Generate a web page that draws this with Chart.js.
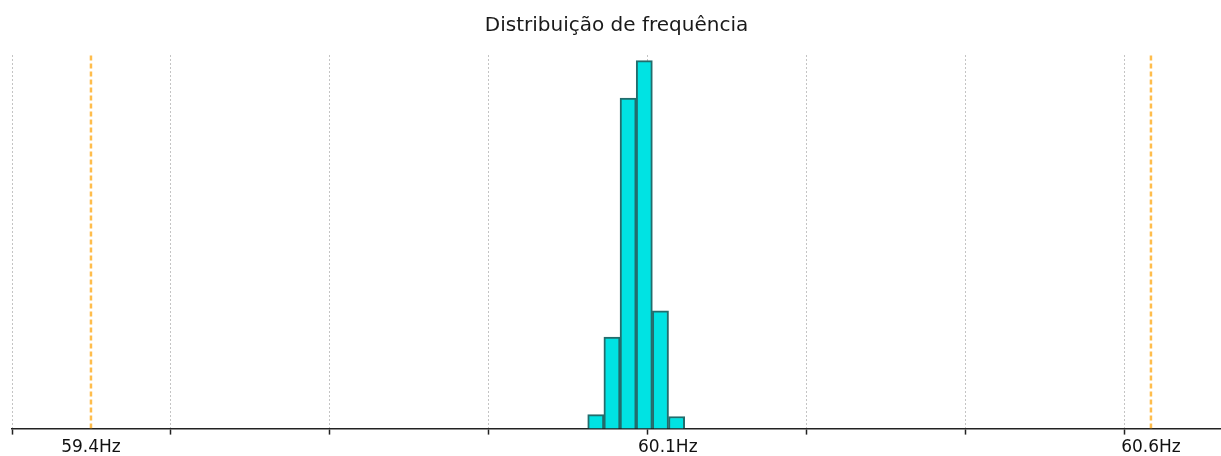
<!DOCTYPE html>
<html>
<head>
<meta charset="utf-8">
<script src="https://cdn.jsdelivr.net/npm/chart.js@4/dist/chart.umd.min.js"></script>
<style>
  html, body { margin: 0; padding: 0; background: #fff; }
  canvas { display: block; }
</style>
</head>
<body>
<canvas id="freqChart" width="1221" height="456"></canvas>
<script>
// histograma - centros das classes (Hz) e frequencia relativa (%)
const binCenters = [59.9715, 59.9898, 60.0081, 60.0264, 60.0447, 60.063];
const freqPct = [1.5, 9.8, 35.4, 39.4, 12.6, 1.3];

// limites (linhas laranja)
const limitValues = [59.4, 60.6];

// rotulos do eixo x
const labelValues = [59.4, 60.053, 60.6];
const labelTexts = ['59.4Hz', '60.1Hz', '60.6Hz'];

// linhas de grade verticais
const gridValues = [59.3106, 59.4906, 59.6706, 59.8506, 60.0306, 60.2106, 60.3906, 60.5706];

const xMin = 59.3106;
const xMax = 60.6793;
const yMax = 40;

const limitDatasets = limitValues.map(v => ({
  type: 'line',
  data: [{ x: v, y: 0 }, { x: v, y: yMax }],
  borderColor: 'rgba(255, 178, 45, 0.85)',
  borderWidth: 2.5,
  borderDash: [5, 3],
  pointRadius: 0,
  fill: false
}));

const canvas = document.getElementById('freqChart');

new Chart(canvas, {
  type: 'bar',
  data: {
    datasets: [
      {
        type: 'bar',
        data: binCenters.map((x, i) => ({ x: x, y: freqPct[i] })),
        backgroundColor: '#00e3e3',
        borderColor: '#236c6c',
        borderWidth: 2,
        barPercentage: 1,
        categoryPercentage: 1
      },
      ...limitDatasets
    ]
  },
  options: {
    responsive: false,
    animation: false,
    devicePixelRatio: 1,
    layout: { padding: { left: 12, right: 0, top: 0, bottom: -5.5 } },
    plugins: {
      legend: { display: false },
      tooltip: { enabled: false },
      title: {
        display: true,
        text: 'Distribuição de frequência',
        color: '#1a1a1a',
        font: { family: 'DejaVu Sans', size: 20, weight: 'normal', lineHeight: 1.2 },
        padding: { top: 14, bottom: 17 }
      }
    },
    scales: {
      x: {
        type: 'linear',
        min: xMin,
        max: xMax,
        offset: false,
        afterBuildTicks: scale => {
          const vals = gridValues.concat(labelValues).sort((a, b) => a - b);
          scale.ticks = vals.map(v => ({ value: v }));
        },
        grid: {
          offset: false,
          color: ctx => (ctx.tick && gridValues.includes(ctx.tick.value)) ? '#c4c4c4' : 'rgba(0,0,0,0)',
          tickColor: ctx => (ctx.tick && gridValues.includes(ctx.tick.value)) ? '#222' : 'rgba(0,0,0,0)',
          lineWidth: 1,
          tickWidth: 1.5,
          tickLength: 6,
          drawTicks: true
        },
        border: { display: true, color: '#222', width: 1.5, dash: [2, 2] },
        ticks: {
          autoSkip: false,
          maxRotation: 0,
          padding: 7.5,
          color: '#111',
          font: { family: 'DejaVu Sans', size: 17, lineHeight: 0.7 },
          callback: value => {
            const i = labelValues.indexOf(value);
            return i >= 0 ? labelTexts[i] : '';
          }
        }
      },
      y: {
        display: false,
        min: 0,
        max: yMax
      }
    }
  }
});
</script>
</body>
</html>
